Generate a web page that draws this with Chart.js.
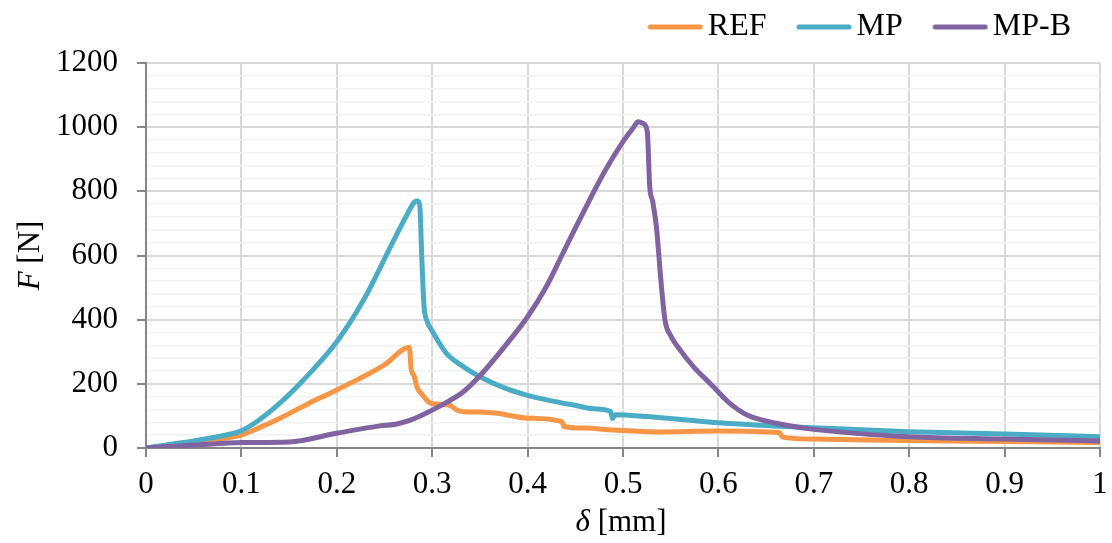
<!DOCTYPE html>
<html>
<head>
<meta charset="utf-8">
<title>F–δ</title>
<script src="https://cdn.jsdelivr.net/npm/chart.js@4.4.1/dist/chart.umd.min.js"></script>
<style>
  html, body { margin: 0; padding: 0; background: #fff; }
  #wrap { width: 1112px; height: 543px; position: relative; }
</style>
</head>
<body>
<div id="wrap"><canvas id="fd"></canvas></div>
<script>
// displacement [mm] / force [N] per specimen
const refD = [0, 0.02, 0.05, 0.08, 0.1, 0.12, 0.14, 0.17, 0.2, 0.25, 0.276, 0.278, 0.281, 0.284, 0.29, 0.298, 0.31, 0.319, 0.325, 0.333, 0.35, 0.368, 0.4, 0.436, 0.438, 0.46, 0.49, 0.535, 0.6, 0.664, 0.667, 0.7, 0.8, 0.9, 1.0];
const refF = [0, 5, 18, 30, 40, 65, 92, 138, 181, 259, 314, 245, 225, 190, 165, 140, 136, 132, 120, 113, 112, 108, 93, 82, 67, 62, 56, 50, 53, 48, 34, 28, 23, 20, 17];

const mpD = [0, 0.02, 0.05, 0.08, 0.1, 0.116, 0.14, 0.165, 0.2, 0.228, 0.259, 0.275, 0.282, 0.285, 0.287, 0.289, 0.2915, 0.294, 0.3, 0.315, 0.333, 0.35, 0.375, 0.4, 0.425, 0.448, 0.47, 0.487, 0.489, 0.492, 0.525, 0.6, 0.7, 0.8, 0.9, 1.0];
const mpF = [0, 9, 22, 38, 54, 82, 139, 212, 331, 461, 643, 735, 768, 770, 755, 600, 440, 400, 365, 295, 253, 222, 188, 164, 147, 134, 122, 114, 92, 104, 98, 79, 63, 51, 44, 35];

const mpbD = [0, 0.02, 0.05, 0.1, 0.15, 0.2, 0.245, 0.263, 0.28, 0.3, 0.315, 0.333, 0.35, 0.375, 0.4, 0.42, 0.437, 0.45, 0.465, 0.48, 0.5, 0.51, 0.516, 0.521, 0.5255, 0.528, 0.531, 0.535, 0.54, 0.544, 0.55, 0.56, 0.574, 0.591, 0.595, 0.612, 0.63, 0.661, 0.7, 0.8, 0.9, 1.0];
const mpbF = [0, 4, 9, 17, 19, 46, 69, 75, 90, 118, 142, 176, 225, 313, 409, 505, 607, 685, 773, 858, 955, 995, 1017, 1012, 985, 815, 770, 690, 513, 399, 350, 305, 253, 202, 190, 139, 103, 77, 58, 35, 28, 22];

const serif = '"Liberation Serif", "Times New Roman", serif';
const tickFont = { family: serif, size: 31 };

function series(label, xs, ys, color, order){
  return {
    label,
    data: xs.map((x, i) => ({ x, y: ys[i] })),
    borderColor: color,
    backgroundColor: color,
    borderWidth: 5,
    borderCapStyle: 'round',
    borderJoinStyle: 'round',
    pointRadius: 0,
    cubicInterpolationMode: 'monotone',
    order
  };
}

// short thick stroke used as the legend marker
function legendLine(color){
  const c = document.createElement('canvas');
  c.width = 56; c.height = 6;
  const g = c.getContext('2d');
  g.strokeStyle = color; g.lineWidth = 5; g.lineCap = 'round';
  g.beginPath(); g.moveTo(3, 3); g.lineTo(53, 3); g.stroke();
  return c;
}

function drawMixed(ctx, parts, cx, cy){
  let total = 0;
  parts.forEach(([f, t]) => { ctx.font = f; total += ctx.measureText(t).width; });
  let x = cx - total / 2;
  ctx.textAlign = 'left';
  parts.forEach(([f, t]) => { ctx.font = f; ctx.fillText(t, x, cy); x += ctx.measureText(t).width; });
}

// axis titles with an italic symbol
const axisTitles = {
  id: 'axisTitles',
  afterDraw(chart){
    const { ctx, chartArea: a } = chart;
    const it = 'italic 31px ' + serif, rg = '31px ' + serif;
    ctx.save();
    ctx.fillStyle = '#000';
    ctx.textBaseline = 'middle';
    drawMixed(ctx, [[it, 'δ'], [rg, ' [mm]']], (a.left + a.right) / 2 - 2, 523);
    ctx.translate(31, (a.top + a.bottom) / 2);
    ctx.rotate(-Math.PI / 2);
    drawMixed(ctx, [[it, 'F'], [rg, ' [N]']], 0, 0);
    ctx.restore();
  }
};

const major = c => c.tick && c.tick.value % 200 === 0;

new Chart(document.getElementById('fd'), {
  type: 'line',
  data: {
    datasets: [
      series('REF', refD, refF, '#F79646', 3),
      series('MP', mpD, mpF, '#4BACC6', 2),
      series('MP-B', mpbD, mpbF, '#8064A2', 1)
    ]
  },
  options: {
    responsive: true,
    maintainAspectRatio: false,
    animation: false,
    layout: { padding: { top: -30, left: 0, right: 0, bottom: 0 } },
    plugins: {
      legend: {
        position: 'top',
        align: 'end',
        labels: {
          usePointStyle: true,
          pointStyleWidth: 33,
          boxHeight: 6,
          padding: 41,
          color: '#000',
          font: { family: serif, size: 32 },
          generateLabels: chart => chart.data.datasets.map((ds, i) => ({
            text: ds.label,
            fillStyle: ds.borderColor,
            strokeStyle: ds.borderColor,
            lineWidth: 0,
            pointStyle: legendLine(ds.borderColor),
            fontColor: '#000',
            hidden: false,
            datasetIndex: i
          }))
        }
      },
      subtitle: { display: true, text: '', weight: 500, padding: 0, font: { size: 10, lineHeight: 1 } },
      tooltip: { enabled: false }
    },
    scales: {
      x: {
        type: 'linear',
        min: 0,
        max: 1,
        afterFit: s => { s.height = 95; s.paddingRight = 12; },
        border: { color: '#868686', width: 2 },
        grid: { color: '#d9d9d9', lineWidth: 2, tickLength: 9, tickColor: '#868686', tickWidth: 2 },
        ticks: {
          stepSize: 0.1, autoSkip: false, maxRotation: 0, padding: 9,
          color: '#000', font: tickFont,
          callback: v => String(Math.round(v * 10) / 10)
        }
      },
      y: {
        min: 0,
        max: 1200,
        afterFit: s => { s.width = 146; },
        border: { color: '#868686', width: 2 },
        grid: {
          color: c => major(c) ? '#d9d9d9' : '#f2f2f2',
          lineWidth: c => major(c) ? 2 : 1.5,
          tickLength: 9,
          tickColor: c => major(c) ? '#868686' : 'rgba(0,0,0,0)',
          tickWidth: 2
        },
        ticks: {
          stepSize: 40, autoSkip: false, padding: 19,
          color: '#000', font: tickFont,
          callback: v => v % 200 === 0 ? v : ''
        }
      }
    }
  },
  plugins: [axisTitles]
});
</script>
</body>
</html>
